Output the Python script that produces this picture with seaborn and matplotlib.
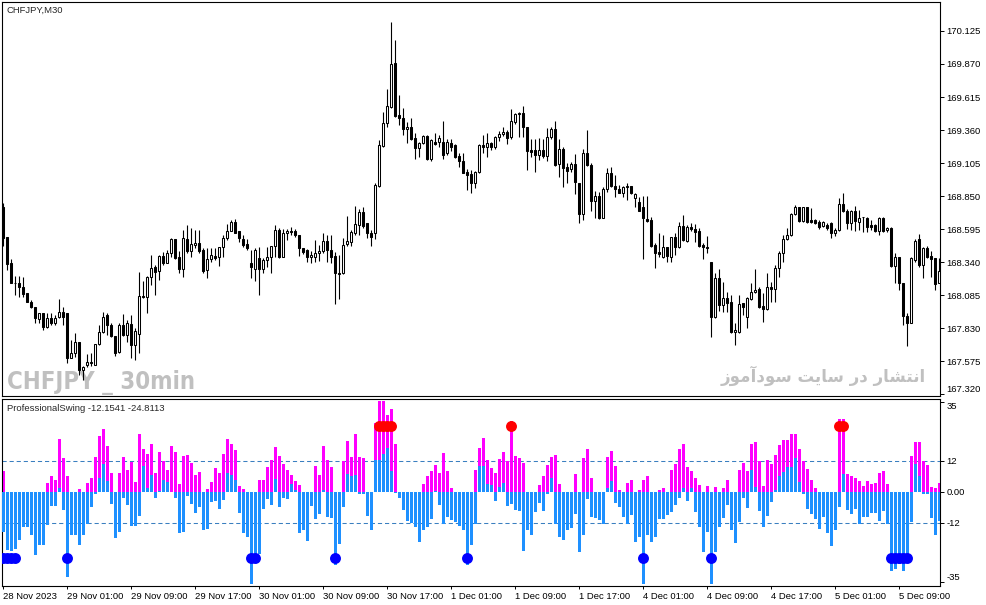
import matplotlib
matplotlib.use("Agg")
import matplotlib.pyplot as plt
from matplotlib import font_manager as fm
import numpy as np
import pandas as pd
import seaborn as sns

sns.set_style("white")
plt.rcParams["font.family"] = ["Liberation Sans", "DejaVu Sans"]

# CHFJPY M30 candles
opens = [
    168.768, 168.531, 168.330, 168.175, 168.180, 168.144, 168.098, 168.034, 167.990, 167.897,
    167.943, 167.840, 167.905, 167.871, 167.917, 167.956, 167.943, 167.596, 167.640, 167.724,
    167.505, 167.544, 167.562, 167.544, 167.706, 167.802, 167.930, 167.853, 167.768, 167.647,
    167.853, 167.776, 167.861, 167.698, 167.781, 168.077, 168.067, 168.221, 168.299, 168.273,
    168.386, 168.330, 168.407, 168.515, 168.381, 168.283, 168.515, 168.428, 168.471, 168.484,
    168.433, 168.278, 168.361, 168.386, 168.376, 168.453, 168.523, 168.582, 168.652, 168.582,
    168.515, 168.479, 168.335, 168.283, 168.368, 168.283, 168.356, 168.376, 168.464, 168.587,
    168.381, 168.562, 168.582, 168.582, 168.549, 168.446, 168.433, 168.381, 168.381, 168.407,
    168.428, 168.505, 168.433, 168.386, 168.258, 168.252, 168.479, 168.497, 168.567, 168.626,
    168.729, 168.639, 168.567, 168.567, 168.927, 169.236, 169.417, 169.540, 169.875, 169.476,
    169.450, 169.365, 169.386, 169.296, 169.218, 169.257, 169.314, 169.133, 169.270, 169.270,
    169.270, 169.180, 169.262, 169.244, 169.159, 169.123, 169.035, 169.020, 168.953, 169.038,
    169.244, 169.231, 169.257, 169.226, 169.303, 169.329, 169.347, 169.303, 169.424, 169.484,
    169.494, 169.386, 169.206, 169.206, 169.167, 169.206, 169.159, 169.303, 169.365, 169.097,
    169.211, 169.072, 169.056, 169.097, 168.953, 168.711, 169.180, 169.090, 168.814, 168.850,
    168.677, 168.901, 169.025, 168.927, 168.901, 168.876, 168.922, 168.927, 168.832, 168.806,
    168.768, 168.670, 168.665, 168.471, 168.420, 168.381, 168.458, 168.376, 168.531, 168.453,
    168.618, 168.505, 168.613, 168.597, 168.582, 168.471, 168.453, 168.343, 167.912, 168.214,
    168.008, 168.059, 168.034, 167.802, 167.802, 168.021, 167.917, 168.051, 168.111, 168.129,
    168.000, 167.974, 168.144, 168.129, 168.291, 168.407, 168.515, 168.549, 168.711, 168.762,
    168.660, 168.762, 168.665, 168.665, 168.652, 168.618, 168.626, 168.639, 168.567, 168.587,
    168.788, 168.737, 168.644, 168.737, 168.652, 168.690, 168.678, 168.626, 168.626, 168.582,
    168.678, 168.590, 168.600, 168.309, 168.381, 168.175, 167.923, 167.871, 168.356, 168.515,
    168.317, 168.446, 168.386, 168.368, 168.175,
]
highs = [
    168.798, 168.536, 168.361, 168.232, 168.232, 168.221, 168.098, 168.046, 167.995, 167.948,
    167.943, 167.948, 167.943, 167.930, 168.051, 167.995, 167.948, 167.737, 167.789, 167.724,
    167.536, 167.629, 167.634, 167.706, 167.853, 167.956, 167.943, 167.866, 167.768, 167.871,
    167.938, 167.892, 167.930, 167.827, 168.265, 168.196, 168.232, 168.394, 168.317, 168.394,
    168.420, 168.433, 168.523, 168.515, 168.428, 168.587, 168.626, 168.600, 168.587, 168.587,
    168.446, 168.446, 168.446, 168.446, 168.458, 168.549, 168.634, 168.665, 168.670, 168.582,
    168.549, 168.515, 168.433, 168.446, 168.458, 168.368, 168.458, 168.464, 168.626, 168.600,
    168.592, 168.592, 168.613, 168.592, 168.549, 168.446, 168.438, 168.428, 168.510, 168.471,
    168.562, 168.549, 168.549, 168.420, 168.394, 168.523, 168.695, 168.587, 168.773, 168.747,
    168.768, 168.644, 168.587, 168.953, 169.283, 169.502, 169.674, 170.197, 170.056, 169.630,
    169.527, 169.424, 169.450, 169.334, 169.270, 169.321, 169.321, 169.288, 169.334, 169.321,
    169.432, 169.288, 169.288, 169.252, 169.185, 169.180, 169.056, 169.051, 169.046, 169.252,
    169.321, 169.334, 169.270, 169.314, 169.355, 169.386, 169.360, 169.525, 169.494, 169.502,
    169.546, 169.386, 169.288, 169.288, 169.296, 169.288, 169.373, 169.386, 169.432, 169.288,
    169.231, 169.102, 169.115, 169.175, 168.953, 169.211, 169.360, 169.102, 168.891, 168.883,
    168.922, 169.064, 169.077, 169.012, 168.935, 168.927, 168.948, 168.927, 168.876, 168.845,
    168.850, 168.850, 168.685, 168.484, 168.562, 168.549, 168.458, 168.536, 168.567, 168.652,
    168.703, 168.626, 168.644, 168.634, 168.600, 168.484, 168.541, 168.343, 168.258, 168.283,
    168.188, 168.111, 168.085, 167.866, 168.085, 168.021, 168.067, 168.180, 168.283, 168.149,
    168.098, 168.258, 168.188, 168.317, 168.428, 168.549, 168.600, 168.716, 168.780, 168.768,
    168.768, 168.768, 168.755, 168.670, 168.665, 168.660, 168.639, 168.652, 168.600, 168.832,
    168.876, 168.747, 168.742, 168.773, 168.742, 168.690, 168.685, 168.665, 168.634, 168.685,
    168.685, 168.608, 168.608, 168.407, 168.381, 168.175, 167.943, 168.381, 168.515, 168.556,
    168.458, 168.464, 168.428, 168.368, 168.368,
]
lows = [
    168.464, 168.278, 168.175, 168.085, 168.072, 168.072, 168.034, 167.982, 167.866, 167.871,
    167.815, 167.827, 167.853, 167.853, 167.905, 167.853, 167.557, 167.596, 167.608, 167.467,
    167.428, 167.531, 167.536, 167.544, 167.698, 167.789, 167.776, 167.763, 167.614, 167.634,
    167.768, 167.724, 167.596, 167.583, 167.640, 168.059, 167.948, 168.162, 168.085, 168.201,
    168.317, 168.330, 168.381, 168.361, 168.258, 168.221, 168.412, 168.376, 168.446, 168.407,
    168.252, 168.214, 168.343, 168.356, 168.309, 168.376, 168.510, 168.582, 168.567, 168.497,
    168.458, 168.433, 168.214, 168.196, 168.085, 168.252, 168.304, 168.252, 168.376, 168.368,
    168.376, 168.510, 168.549, 168.531, 168.386, 168.402, 168.343, 168.330, 168.343, 168.350,
    168.412, 168.343, 168.330, 168.016, 168.051, 168.247, 168.464, 168.464, 168.549, 168.549,
    168.600, 168.523, 168.464, 168.515, 168.922, 169.226, 169.386, 169.527, 169.458, 169.399,
    169.321, 169.257, 169.283, 169.133, 169.154, 169.252, 169.128, 169.123, 169.244, 169.231,
    169.133, 169.167, 169.200, 169.141, 169.077, 169.025, 168.896, 168.876, 168.909, 169.030,
    169.180, 169.154, 169.206, 169.211, 169.278, 169.314, 169.252, 169.288, 169.406, 169.303,
    169.303, 169.051, 169.149, 169.038, 169.128, 169.141, 169.123, 169.288, 169.082, 168.999,
    168.922, 168.948, 169.038, 168.866, 168.639, 168.665, 169.082, 168.737, 168.678, 168.670,
    168.677, 168.883, 168.917, 168.840, 168.871, 168.845, 168.819, 168.866, 168.768, 168.737,
    168.361, 168.652, 168.458, 168.291, 168.381, 168.368, 168.343, 168.343, 168.394, 168.446,
    168.505, 168.497, 168.582, 168.497, 168.458, 168.361, 168.407, 167.763, 167.905, 167.964,
    167.956, 167.956, 167.789, 167.698, 167.789, 167.930, 167.827, 168.046, 168.098, 167.982,
    167.879, 167.969, 168.034, 168.034, 168.227, 168.343, 168.510, 168.541, 168.703, 168.652,
    168.652, 168.644, 168.644, 168.634, 168.592, 168.613, 168.587, 168.523, 168.541, 168.582,
    168.729, 168.592, 168.587, 168.582, 168.587, 168.574, 168.574, 168.587, 168.574, 168.549,
    168.574, 168.574, 168.304, 168.180, 168.124, 167.853, 167.691, 167.871, 168.343, 168.304,
    168.214, 168.368, 168.227, 168.124, 168.175,
]
closes = [
    168.523, 168.325, 168.175, 168.180, 168.144, 168.093, 168.034, 167.990, 167.905, 167.943,
    167.840, 167.905, 167.871, 167.905, 167.956, 167.917, 167.596, 167.640, 167.724, 167.505,
    167.531, 167.570, 167.565, 167.706, 167.802, 167.917, 167.853, 167.768, 167.640, 167.853,
    167.776, 167.871, 167.698, 167.807, 168.077, 168.072, 168.221, 168.296, 168.265, 168.386,
    168.330, 168.412, 168.515, 168.368, 168.283, 168.523, 168.428, 168.479, 168.489, 168.428,
    168.273, 168.361, 168.394, 168.368, 168.458, 168.523, 168.582, 168.652, 168.567, 168.523,
    168.471, 168.446, 168.299, 168.433, 168.283, 168.356, 168.381, 168.464, 168.587, 168.381,
    168.567, 168.582, 168.574, 168.549, 168.446, 168.420, 168.381, 168.394, 168.412, 168.428,
    168.505, 168.433, 168.381, 168.258, 168.247, 168.471, 168.505, 168.574, 168.634, 168.729,
    168.618, 168.562, 168.536, 168.935, 169.244, 169.417, 169.546, 169.870, 169.468, 169.450,
    169.365, 169.386, 169.288, 169.218, 169.257, 169.314, 169.133, 169.283, 169.252, 169.296,
    169.167, 169.270, 169.231, 169.154, 169.123, 169.030, 169.012, 168.953, 169.038, 169.244,
    169.226, 169.257, 169.226, 169.303, 169.329, 169.347, 169.296, 169.432, 169.484, 169.494,
    169.386, 169.200, 169.193, 169.167, 169.206, 169.159, 169.303, 169.365, 169.090, 169.211,
    169.064, 169.046, 169.097, 168.961, 168.711, 169.180, 169.090, 168.814, 168.850, 168.677,
    168.901, 169.025, 168.927, 168.901, 168.876, 168.917, 168.927, 168.871, 168.866, 168.737,
    168.677, 168.660, 168.464, 168.412, 168.402, 168.458, 168.386, 168.531, 168.453, 168.618,
    168.510, 168.613, 168.592, 168.574, 168.464, 168.458, 168.446, 167.912, 168.214, 168.008,
    168.059, 168.026, 167.802, 167.815, 168.016, 167.995, 168.059, 168.111, 168.124, 167.995,
    167.974, 168.144, 168.129, 168.291, 168.412, 168.515, 168.549, 168.711, 168.762, 168.660,
    168.762, 168.652, 168.652, 168.644, 168.613, 168.652, 168.600, 168.567, 168.587, 168.788,
    168.737, 168.644, 168.737, 168.660, 168.678, 168.685, 168.613, 168.613, 168.582, 168.678,
    168.582, 168.600, 168.309, 168.381, 168.175, 167.923, 167.871, 168.368, 168.505, 168.317,
    168.446, 168.381, 168.361, 168.170, 168.273,
]

# ProfessionalSwing indicator: magenta (positive) and blue histograms
swing_up = [
    8.0, 0, 0, 0, 0, 0, 0, 0, 0, 0,
    0, 3.4, 6.0, 4.7, 20.7, 13.2, 6.0, 0, 0, 1.2,
    0, 3.4, 5.3, 13.4, 21.7, 24.3, 17.7, 7.3, 0, 7.3,
    13.4, 8.6, 11.6, 3.8, 22.6, 16.8, 14.7, 18.4, 7.3, 15.5,
    11.9, 8.6, 17.7, 15.5, 3.1, 14.1, 14.5, 11.2, 6.4, 7.7,
    0, 1.2, 3.8, 9.3, 7.3, 14.7, 20.7, 18.4, 16.4, 2.5,
    1.2, 0, 0, 0, 4.7, 4.7, 9.5, 12.5, 17.3, 13.8,
    10.8, 8.6, 6.7, 4.3, 2.7, 0, 0, 0, 9.9, 6.4,
    17.7, 12.5, 9.5, 0, 0, 11.9, 19.7, 13.4, 22.3, 13.4,
    13.2, 0, 0, 26.9, 35.3, 35.1, 29.9, 32.1, 18.4, 0,
    0, 0, 0, 0, 0, 3.0, 6.0, 8.2, 10.6, 7.3,
    15.1, 8.0, 1.7, 0, 0, 0, 0, 0, 8.6, 17.1,
    21.0, 12.5, 9.3, 7.3, 12.9, 15.5, 11.9, 27.5, 13.8, 13.2,
    11.2, 0, 0, 0, 2.7, 6.0, 10.6, 13.4, 14.5, 3.0,
    0, 0, 0, 6.9, 0, 13.2, 16.8, 5.6, 0, 0,
    0, 13.4, 15.8, 9.9, 0.8, 0, 3.4, 4.7, 0, 0.8,
    4.7, 6.0, 0, 0, 0.8, 1.7, 0, 8.6, 10.8, 16.8,
    18.4, 9.5, 8.2, 5.6, 2.7, 0, 2.5, 0, 2.1, 0,
    1.7, 4.7, 0, 0, 8.6, 11.2, 8.2, 18.7, 19.4, 11.9,
    2.5, 12.5, 10.8, 14.5, 18.1, 20.3, 20.3, 22.6, 22.6, 16.8,
    12.1, 9.0, 4.7, 1.7, 0, 0, 0, 0, 0, 28.2,
    28.2, 6.9, 6.0, 5.3, 4.3, 2.5, 4.3, 3.0, 3.4, 7.3,
    8.2, 3.0, 0, 0, 0, 0, 0, 13.8, 19.4, 19.4,
    11.9, 10.3, 2.1, 1.4, 3.4,
]
swing = [
    -15.3, -22.5, -23.0, -22.0, -18.4, -13.6, -13.6, -16.6, -24.4, -20.7,
    -20.7, -12.9, -5.3, -5.3, 1.4, -7.0, -33.1, -16.8, -16.8, -20.7,
    -16.8, -12.3, -5.7, -0.9, 5.3, 10.8, 4.3, -4.8, -17.9, -15.3,
    -2.5, -5.1, -13.2, -13.2, -9.3, 9.9, 1.4, 6.7, -2.2, 0.4,
    4.7, 3.8, -0.2, -2.2, -15.8, -15.3, -1.4, -4.8, -8.0, -5.7,
    -14.9, -14.2, -4.0, -3.5, -6.4, -3.1, 7.3, 6.4, 4.7, -8.3,
    -15.8, -17.5, -35.5, -24.0, -24.0, -6.4, -2.7, -5.1, 5.1, -5.7,
    -2.5, -2.7, 3.0, 0.8, -15.8, -14.9, -18.8, -5.3, -10.6, -8.7,
    0.8, -9.7, -10.0, -28.3, -20.1, -5.7, 6.9, 6.0, 6.7, -0.9,
    -0.9, -9.3, -14.9, 12.5, 12.5, 14.7, 17.1, 8.0, -0.5, -2.2,
    -7.0, -11.3, -11.9, -13.6, -19.4, -14.9, -13.6, -10.6, 0.4, -5.1,
    -12.3, -9.7, -11.0, -11.6, -13.2, -14.9, -28.3, -20.7, -12.3, 9.9,
    9.9, 3.0, 2.7, -3.5, 2.1, 3.4, -5.3, -4.8, -7.0, -7.4,
    -22.7, -14.9, -16.6, -7.7, -4.4, -7.4, -0.9, 5.3, -12.3, -17.5,
    -18.4, -14.9, -14.0, -8.7, -23.3, -16.6, -2.7, -9.7, -10.0, -11.0,
    -12.3, 1.4, 4.3, -4.4, -5.7, -9.7, -12.3, -9.0, -19.2, -17.5,
    -35.5, -16.8, -19.4, -17.5, -10.3, -10.6, -9.0, -7.7, -5.1, -2.2,
    1.4, -3.5, 1.4, -7.7, -13.6, -23.1, -15.3, -35.5, -23.3, -13.6,
    -10.0, -5.1, -14.9, -19.7, -11.6, -2.2, -6.1, 8.6, 2.1, -7.4,
    -13.6, -9.3, -3.8, 0.8, 6.0, 7.7, 9.5, 9.5, 13.2, 3.8,
    -0.9, -6.4, -8.7, -10.6, -14.2, -9.7, -15.8, -21.0, -14.9, -5.7,
    6.9, -7.0, -8.7, -6.4, -12.3, -9.7, -9.7, -8.3, -8.3, -11.3,
    -7.4, -12.3, -30.5, -29.9, -27.9, -30.5, -26.0, -11.6, 10.8, 6.0,
    -0.9, -0.9, -10.0, -16.6, -11.3,
]
sell_signal_bars = [94, 95, 96, 97, 127, 209, 210]
buy_signal_bars = [0, 1, 2, 3, 16, 62, 63, 83, 116, 160, 177, 222, 223, 224, 225, 226]
signal_level = 25.5

time_labels = ["28 Nov 2023", "29 Nov 01:00", "29 Nov 09:00", "29 Nov 17:00", "30 Nov 01:00",
               "30 Nov 09:00", "30 Nov 17:00", "1 Dec 01:00", "1 Dec 09:00", "1 Dec 17:00",
               "4 Dec 01:00", "4 Dec 09:00", "4 Dec 17:00", "5 Dec 01:00", "5 Dec 09:00"]
price_ticks = [170.125, 169.870, 169.615, 169.360, 169.105, 168.850,
               168.595, 168.340, 168.085, 167.830, 167.575, 167.320]
osc_ticks = [35, 12, 0, -12, -35]
osc_tick_labels = ["35", "12", "0.00", "-12", "-35"]
watermark_fa = "انتشار در سایت سودآموز"

# simple Arabic-script shaping (matplotlib has no text shaping)
forms = {
    "\u0627": ("\ufe8d", "\ufe8e", None, None),
    "\u0622": ("\ufe81", "\ufe82", None, None),
    "\u0646": ("\ufee5", "\ufee6", "\ufee7", "\ufee8"),
    "\u062a": ("\ufe95", "\ufe96", "\ufe97", "\ufe98"),
    "\u0634": ("\ufeb5", "\ufeb6", "\ufeb7", "\ufeb8"),
    "\u0631": ("\ufead", "\ufeae", None, None),
    "\u062f": ("\ufea9", "\ufeaa", None, None),
    "\u0633": ("\ufeb1", "\ufeb2", "\ufeb3", "\ufeb4"),
    "\u06cc": ("\ufef1", "\ufef2", "\ufef3", "\ufef4"),
    "\u064a": ("\ufef1", "\ufef2", "\ufef3", "\ufef4"),
    "\u0648": ("\ufeed", "\ufeee", None, None),
    "\u0645": ("\ufee1", "\ufee2", "\ufee3", "\ufee4"),
    "\u0632": ("\ufeaf", "\ufeb0", None, None),
}


def shape_rtl(text):
    out = []
    for k, ch in enumerate(text):
        if ch not in forms:
            out.append(ch)
            continue
        prev = text[k - 1] if k > 0 else " "
        nxt = text[k + 1] if k + 1 < len(text) else " "
        joins_prev = prev in forms and forms[prev][2] is not None
        joins_next = forms[ch][2] is not None and nxt in forms
        iso, fin, ini, med = forms[ch]
        if joins_prev and joins_next:
            out.append(med)
        elif joins_prev:
            out.append(fin)
        elif joins_next:
            out.append(ini)
        else:
            out.append(iso)
    return "".join(reversed(out))


# pick a narrow bold face for the big watermark if one is installed
installed = fm.fontManager.ttflist
names = {f.name for f in installed}
if "Liberation Sans Narrow" in names:
    wm_font = dict(family=["Liberation Sans Narrow"], fontsize=21)
elif any(f.name == "DejaVu Sans" and f.stretch == "condensed" for f in installed):
    wm_font = dict(family=["DejaVu Sans"], fontstretch="condensed", fontsize=17.2)
else:
    wm_font = dict(family=["Liberation Sans"], fontsize=16.5)

df = pd.DataFrame({"open": opens, "high": highs, "low": lows, "close": closes,
                   "swing_up": swing_up, "swing": swing})
n = len(df)
df["bar"] = np.arange(n)
df["bull"] = df["close"] >= df["open"]

W, H = 987, 605
fig = plt.figure(figsize=(W / 100, H / 100), dpi=100)
ax1 = fig.add_axes([2 / W, 1 - 396 / H, 938 / W, 394 / H])
ax2 = fig.add_axes([2 / W, 1 - 586 / H, 938 / W, 187 / H])

# candles
ax1.vlines(df["bar"], df["low"], df["high"], color="black", linewidth=0.8, zorder=2)
body_lo = df[["open", "close"]].min(axis=1)
body_h = (df["close"] - df["open"]).abs()
ax1.bar(df["bar"], body_h, bottom=body_lo, width=0.5,
        color=np.where(df["bull"], "white", "black"), edgecolor="black",
        linewidth=0.75, zorder=3)

ax1.set_xlim(-0.25, n - 0.75)
ax1.set_ylim(167.305, 170.349)
ax1.set_xticks([])
ax1.yaxis.tick_right()
ax1.set_yticks(price_ticks)
lbls = ax1.set_yticklabels([f"{p:.3f}" for p in price_ticks])
lbls[-1].set_va("bottom")

fig.text(7 / W, 1 - 10.5 / H, "CHFJPY,M30", fontsize=6.8, va="center", ha="left")
ax1.text(7 / W, 1 - 389 / H, "CHFJPY _ 30min", transform=fig.transFigure,
         fontweight="bold", color="#C0C0C0", va="baseline", ha="left",
         zorder=1, **wm_font)
ax1.text(926 / W, 1 - 382 / H, shape_rtl(watermark_fa), transform=fig.transFigure,
         fontsize=12, fontweight="bold", color="#C0C0C0", va="baseline", ha="right",
         family=["DejaVu Sans"], zorder=1)

# indicator window
sns.barplot(x=df["bar"], y=df["swing_up"], native_scale=True, color="#FF00FF",
            saturation=1, width=0.75, errorbar=None, linewidth=0, ax=ax2, zorder=2)
sns.barplot(x=df["bar"], y=df["swing"], native_scale=True, color="#1E90FF",
            saturation=1, width=0.75, errorbar=None, linewidth=0, ax=ax2, zorder=3)
sns.scatterplot(x=sell_signal_bars, y=[signal_level] * len(sell_signal_bars),
                color="#FF0000", s=62, linewidth=0, ax=ax2, zorder=4, legend=False)
sns.scatterplot(x=buy_signal_bars, y=[-signal_level] * len(buy_signal_bars),
                color="#0000FF", s=62, linewidth=0, ax=ax2, zorder=4, legend=False)
for lvl in (12, -12):
    ax2.axhline(lvl, color="#3A7FC0", linewidth=0.75, linestyle=(0, (4, 2.8)), zorder=1)

ax2.set_xlim(-0.25, n - 0.75)
ax2.set_ylim(-36.4, 36.0)
ax2.set_xlabel("")
ax2.set_ylabel("")
ax2.yaxis.tick_right()
ax2.set_yticks(osc_ticks)
olbls = ax2.set_yticklabels(osc_tick_labels)
olbls[0].set_va("top")
olbls[-1].set_va("bottom")
ax2.set_xticks(np.arange(0, n, 16)[:len(time_labels)])
xl = ax2.set_xticklabels(time_labels)
for t in xl:
    t.set_ha("left")
fig.text(7 / W, 1 - 408.5 / H, "ProfessionalSwing -12.1541 -24.8113",
         fontsize=6.8, va="center", ha="left")

for ax in (ax1, ax2):
    for sp in ax.spines.values():
        sp.set_visible(True)
        sp.set_color("black")
        sp.set_linewidth(0.8)
    ax.tick_params(axis="y", which="both", right=True, left=False, labelright=True,
                   labelleft=False, length=3, width=0.7, pad=1.5, labelsize=6.8,
                   colors="black")
ax2.tick_params(axis="x", bottom=True, length=2.5, width=0.7, pad=1.5,
                labelsize=6.8, colors="black")

fig.savefig("out.png", dpi=100)
